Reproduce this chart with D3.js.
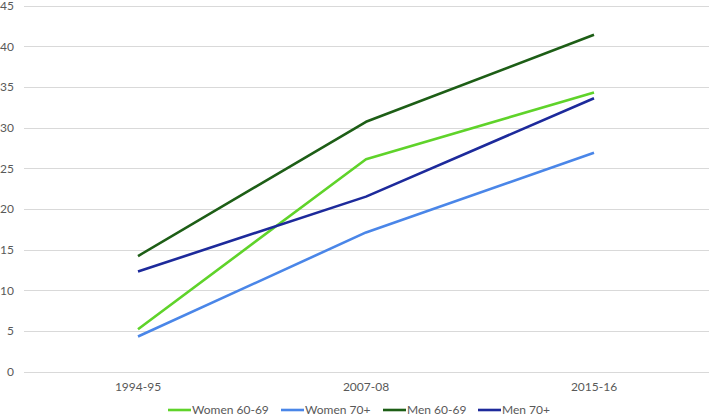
<!DOCTYPE html>
<html>
<head>
<meta charset="utf-8">
<script src="https://cdn.jsdelivr.net/npm/d3@7"></script>
<style>
  body { margin: 0; background: #fff; }
  text { font-family: Lato, "Open Sans", sans-serif; fill: #595959; }
</style>
</head>
<body>
<svg id="chart" width="709" height="417"></svg>
<script>
// data
let periods = ["1994-95", "2007-08", "2015-16"];
let women6069 = [5.2, 26.1, 34.3];
let women70 = [4.3, 17.1, 26.9];
let men6069 = [14.2, 30.7, 41.4];
let men70 = [12.3, 21.5, 33.6];
let yTicks = [0, 5, 10, 15, 20, 25, 30, 35, 40, 45];

let series = [
  { name: "Women 60-69", values: women6069, color: "#5fd32a" },
  { name: "Women 70+", values: women70, color: "#4a86e8" },
  { name: "Men 60-69", values: men6069, color: "#1d5e16" },
  { name: "Men 70+", values: men70, color: "#1d2a9b" }
];

let svg = d3.select("#chart");
let plotLeft = 24, plotRight = 708, plotTop = 5.5, plotBottom = 371.5;

let x = d3.scaleBand().domain(periods).range([plotLeft, plotRight]);
let y = d3.scaleLinear().domain([0, 45]).range([plotBottom, plotTop]);

// gridlines
svg.append("g")
  .selectAll("line")
  .data(yTicks)
  .enter()
  .append("line")
  .attr("x1", plotLeft)
  .attr("x2", 709)
  .attr("y1", d => Math.round(y(d)) + 0.5)
  .attr("y2", d => Math.round(y(d)) + 0.5)
  .attr("stroke", "#d9d9d9")
  .attr("stroke-width", 1);

// y labels
let yAxis = svg.append("g")
  .attr("transform", "translate(14,0)")
  .call(d3.axisLeft(y).tickValues(yTicks).tickSize(0).tickPadding(0));
yAxis.select(".domain").remove();
yAxis.selectAll("text").style("font-size", "12px").style("fill", "#595959")
  .style("font-family", "Lato, 'Open Sans', sans-serif");

// x labels
let xAxis = svg.append("g")
  .attr("transform", "translate(0," + (plotBottom + 11) + ")")
  .call(d3.axisBottom(x).tickSize(0).tickPadding(0));
xAxis.select(".domain").remove();
xAxis.selectAll("text").style("font-size", "12px").style("fill", "#595959")
  .style("font-family", "Lato, 'Open Sans', sans-serif");

// lines
let line = d3.line()
  .x((d, i) => x(periods[i]) + x.bandwidth() / 2)
  .y(d => y(d));

svg.append("g")
  .selectAll("path")
  .data(series)
  .enter()
  .append("path")
  .attr("d", d => line(d.values))
  .attr("fill", "none")
  .attr("stroke", d => d.color)
  .attr("stroke-width", 2.6)
  .attr("stroke-linejoin", "round");

// legend
let legendX = [168, 281, 383, 478];
let lg = svg.append("g")
  .selectAll("g")
  .data(series)
  .enter()
  .append("g")
  .attr("transform", (d, i) => "translate(" + legendX[i] + ",410)");
lg.append("line")
  .attr("x1", 0).attr("x2", 23)
  .attr("stroke", d => d.color)
  .attr("stroke-width", 2.6);
lg.append("text")
  .attr("x", 24)
  .attr("dy", "0.35em")
  .style("font-size", "12px")
  .text(d => d.name);
</script>
</body>
</html>
